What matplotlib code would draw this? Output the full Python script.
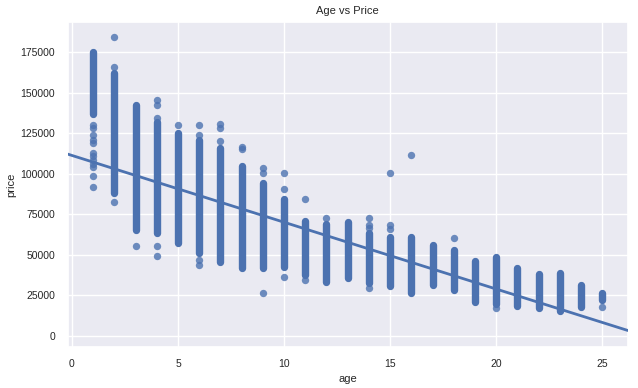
import matplotlib
matplotlib.use("Agg")
import matplotlib.pyplot as plt
import numpy as np
import seaborn as sns

# dense price range observed at each age (vertical bands of overlapping points)
ages = list(range(1, 26))
band_low = [136700, 88000, 65200, 63200, 57000, 51000, 45100, 41600, 41600, 42200,
            37500, 33300, 35400, 32300, 30700, 26500, 31300, 28200, 21000, 19600,
            18300, 16900, 15400, 17500, 22000]
band_high = [175000, 162000, 142400, 132100, 125300, 120800, 115700, 104700, 94000, 84200,
             71000, 69000, 69800, 63200, 60700, 61100, 56000, 52900, 46100, 48200,
             42000, 37900, 38900, 31300, 26500]

# isolated points outside the dense bands
extra_age = [1] * 12 + [2, 2, 2, 3, 4, 4, 4, 4, 4, 5, 6, 6, 6, 6, 7, 7, 7, 8, 8,
             9, 9, 9, 10, 10, 10, 11, 11, 12, 14, 14, 14, 14, 15, 15, 15, 16, 18, 20, 25]
extra_price = [130000, 128000, 124000, 120800, 118900, 113000, 111000, 108500, 106000,
               104000, 98600, 91600,
               184600, 166000, 82300, 55400, 145500, 142400, 134600, 55400, 49200,
               130000, 130000, 123900, 46700, 43600, 130500, 128000, 119800, 116700, 115000,
               103300, 100600, 26200, 100200, 90400, 36400, 84200, 34000, 72500,
               72500, 68300, 66300, 29300, 100200, 68300, 65700, 111400, 60500, 16900, 17900]

# fitted regression line
fit_intercept = 111200
fit_slope = -4125

sns.set_theme(style="darkgrid")
plt.rcParams["font.family"] = ["Liberation Sans", "DejaVu Sans"]

color = sns.color_palette("deep")[0]
fig = plt.figure(figsize=(6.38, 3.88), dpi=100)
ax = fig.add_axes([0.106, 0.106, 0.878, 0.837])

diam = 5.3  # marker diameter in points
ax.vlines(ages, band_low, band_high, color=color, lw=diam, capstyle="round", zorder=2)
seg = ax.collections[-1]
seg.set_capstyle("round")
ax.scatter(extra_age, extra_price, s=diam ** 2, color=color, alpha=0.8, lw=0, zorder=2)

xlim = (-0.2, 26.2)
xs = np.array(xlim)
ax.plot(xs, fit_intercept + fit_slope * xs, color=color, lw=2, zorder=3)
ax.set_xlim(*xlim)
ax.set_ylim(-7000, 193500)

ax.set_xticks([0, 5, 10, 15, 20, 25])
ax.set_yticks(range(0, 175001, 25000))
ax.tick_params(labelsize=7.5, pad=3)
ax.set_xlabel("age", fontsize=8, labelpad=3)
ax.set_ylabel("price", fontsize=8, labelpad=3)
ax.set_title("Age vs Price", fontsize=8, pad=6)

fig.savefig("out.png", dpi=100)
